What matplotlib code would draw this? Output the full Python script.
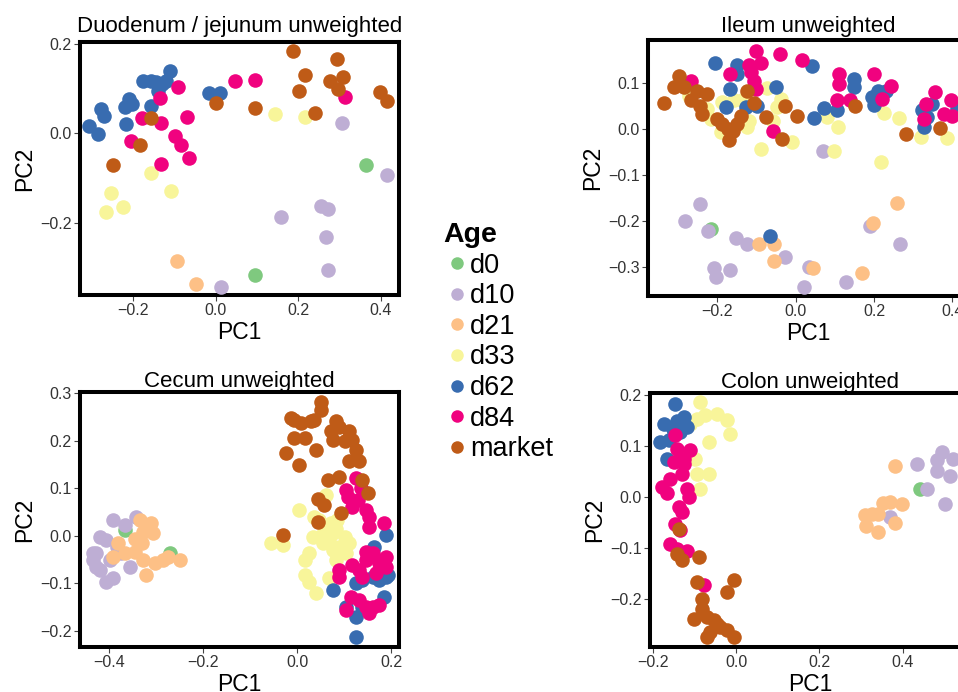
import matplotlib
matplotlib.use("Agg")
import matplotlib.pyplot as plt
from matplotlib.lines import Line2D

plt.rcParams['font.family'] = ['Liberation Sans', 'DejaVu Sans']

groups = ['d0', 'd10', 'd21', 'd33', 'd62', 'd84', 'market']
colors = ['#7FC97F', '#BEAED4', '#FDC086', '#F8F59A', '#386CB0', '#F0027F', '#BF5B17']

# --- Duodenum / jejunum ---
duo_pc1 = {
    'd0': [0.365, 0.095],
    'd10': [0.306, 0.414, 0.159, 0.256, 0.272, 0.268, 0.272, 0.014],
    'd21': [-0.094, -0.047],
    'd33': [0.143, 0.216, -0.156, -0.108, -0.253, -0.223, -0.265],
    'd62': [-0.306, -0.285, -0.277, -0.271, -0.216, -0.220, -0.209, -0.202, -0.176,
            -0.156, -0.144, -0.140, -0.156, -0.120, -0.110, -0.015, 0.010, -0.130],
    'd84': [-0.091, -0.134, -0.178, -0.132, -0.205, -0.133, -0.097, -0.083, -0.065,
            -0.069, 0.046, 0.095, 0.313],
    'market': [0.188, 0.293, 0.216, 0.278, 0.309, 0.297, 0.202, 0.240, 0.398, 0.414,
               0.002, 0.095, -0.156, -0.183, -0.249],
}
duo_pc2 = {
    'd0': [-0.071, -0.316],
    'd10': [0.022, -0.093, -0.187, -0.163, -0.168, -0.232, -0.305, -0.344],
    'd21': [-0.286, -0.336],
    'd33': [0.043, 0.037, -0.088, -0.128, -0.133, -0.165, -0.176],
    'd62': [0.016, -0.002, 0.054, 0.039, 0.020, 0.059, 0.076, 0.065, 0.117,
            0.117, 0.114, 0.095, 0.061, 0.117, 0.140, 0.089, 0.091, 0.110],
    'd84': [0.104, 0.078, 0.035, 0.022, -0.016, -0.068, -0.006, -0.026, -0.056,
            0.037, 0.117, 0.119, 0.082],
    'market': [0.185, 0.166, 0.130, 0.117, 0.126, 0.099, 0.095, 0.046, 0.093, 0.072,
               0.067, 0.056, 0.034, -0.026, -0.070],
}

# --- Ileum ---
ile_pc1 = {
    'd0': [-0.217],
    'd10': [0.071, -0.283, -0.243, -0.223, -0.209, -0.204, -0.168, -0.153, -0.125,
            -0.028, 0.034, 0.021, 0.128, 0.190, 0.266],
    'd21': [-0.094, -0.055, -0.055, 0.043, 0.169, 0.198, 0.258],
    'd33': [-0.272, -0.227, -0.217, -0.187, -0.191, -0.157, -0.136, -0.119, -0.123,
            -0.089, -0.074, -0.057, -0.038, -0.048, -0.009, 0.081, 0.109, 0.098,
            0.226, 0.217, 0.264, 0.319, 0.387],
    'd62': [-0.206, -0.151, -0.149, -0.168, -0.179, -0.128, -0.098, -0.051, -0.066,
            0.041, 0.047, 0.072, 0.106, 0.149, 0.149, 0.196, 0.200, 0.209, 0.230,
            0.323, 0.328, 0.336, 0.349, 0.413],
    'd84': [-0.268, -0.168, -0.102, -0.088, -0.119, -0.115, -0.106, -0.102, -0.041,
            0.017, -0.058, 0.111, 0.111, 0.106, 0.140, 0.200, 0.244, 0.221, 0.332,
            0.357, 0.328, 0.379, 0.396, 0.400],
    'market': [-0.336, -0.298, -0.311, -0.285, -0.268, -0.253, -0.227, -0.243, -0.238,
               -0.200, -0.187, -0.174, -0.170, -0.159, -0.149, -0.140, -0.125, -0.106,
               -0.077, -0.028, -0.034, 0.004, 0.151, 0.281, 0.368],
}
ile_pc2 = {
    'd0': [-0.217],
    'd10': [-0.047, -0.201, -0.164, -0.221, -0.303, -0.321, -0.307, -0.237, -0.251,
            -0.279, -0.301, -0.343, -0.333, -0.210, -0.249],
    'd21': [-0.249, -0.250, -0.288, -0.302, -0.314, -0.205, -0.162],
    'd33': [0.072, 0.043, 0.022, 0.058, -0.007, 0.062, 0.062, 0.018, 0.004,
            -0.043, 0.089, 0.018, 0.065, 0.047, -0.029, 0.025, 0.005, -0.047,
            0.034, -0.072, 0.024, -0.017, -0.020],
    'd62': [0.143, 0.138, 0.120, 0.087, 0.047, 0.047, 0.049, 0.092, -0.232,
            0.136, 0.024, 0.046, 0.040, 0.109, 0.092, 0.069, 0.051, 0.083, 0.083,
            0.040, 0.004, 0.025, 0.054, 0.043],
    'd84': [0.103, 0.120, 0.170, 0.143, 0.138, 0.123, 0.105, 0.087, 0.162,
            0.149, -0.004, 0.120, 0.098, 0.063, 0.063, 0.120, 0.094, 0.064, 0.054,
            0.080, 0.022, 0.033, 0.062, 0.029],
    'market': [0.057, 0.114, 0.092, 0.091, 0.063, 0.082, 0.076, 0.049, 0.033,
               0.022, 0.011, 0.000, -0.025, -0.004, 0.011, 0.029, 0.083, 0.057,
               0.025, 0.049, -0.022, 0.027, 0.049, -0.012, 0.002],
}

# --- Cecum ---
cec_pc1 = {
    'd0': [-0.367, -0.271],
    'd10': [-0.392, -0.342, -0.367, -0.420, -0.427, -0.434, -0.420, -0.406, -0.392,
            -0.384, -0.374, -0.399, -0.356, -0.427, -0.434, -0.406],
    'd21': [-0.335, -0.310, -0.328, -0.307, -0.345, -0.331, -0.345, -0.381, -0.367,
            -0.328, -0.303, -0.285, -0.275, -0.250, -0.321, -0.392],
    'd33': [-0.055, -0.030, 0.005, 0.062, 0.037, 0.047, 0.072, 0.083, 0.058, 0.101,
            0.069, 0.111, 0.090, 0.076, 0.104, 0.055, 0.083, 0.047, 0.026, 0.016,
            0.016, 0.026, 0.040, 0.069, 0.086, 0.033, 0.076],
    'd62': [0.189, 0.164, 0.193, 0.189, 0.161, 0.175, 0.125, 0.139, 0.076, 0.185,
            0.104, 0.125, 0.139, 0.125],
    'd84': [0.125, 0.104, 0.108, 0.136, 0.129, 0.118, 0.147, 0.154, 0.154, 0.185,
            0.090, 0.090, 0.118, 0.132, 0.147, 0.161, 0.175, 0.189, 0.189, 0.139,
            0.168, 0.115, 0.132, 0.147, 0.161, 0.175, 0.104, 0.154, 0.147],
    'market': [0.051, 0.051, -0.013, -0.006, 0.008, 0.030, 0.037, 0.083, 0.090, 0.072,
               0.076, 0.111, 0.118, 0.125, 0.111, 0.132, -0.006, 0.016, -0.023, 0.004,
               0.040, 0.065, 0.090, 0.044, 0.058, 0.093, 0.044, 0.139, 0.150, -0.030,
               0.101],
}
cec_pc2 = {
    'd0': [0.012, -0.036],
    'd10': [0.033, 0.040, 0.022, -0.002, -0.037, -0.037, -0.072, -0.097, -0.090,
            -0.023, -0.037, -0.051, -0.065, -0.065, -0.051, -0.009],
    'd21': [0.033, 0.026, 0.008, 0.005, -0.006, -0.016, -0.034, -0.016, -0.037,
            -0.051, -0.058, -0.051, -0.044, -0.051, -0.083, -0.044],
    'd33': [-0.016, -0.020, 0.055, 0.085, 0.040, 0.033, 0.026, 0.015, 0.008, -0.002,
            -0.009, -0.016, -0.023, -0.030, -0.037, -0.016, -0.051, -0.002, -0.037,
            -0.051, -0.083, -0.097, -0.121, -0.090, 0.033, -0.002, 0.005],
    'd62': [0.001, -0.023, -0.083, -0.086, -0.086, -0.093, -0.100, -0.093, -0.114,
            -0.128, -0.149, -0.170, -0.149, -0.212],
    'd84': [0.121, 0.096, 0.082, 0.100, 0.075, 0.061, 0.054, 0.040, 0.019, 0.026,
            -0.072, -0.086, -0.062, -0.072, -0.051, -0.037, -0.058, -0.044, -0.065,
            -0.086, -0.079, -0.128, -0.135, -0.149, -0.149, -0.146, -0.156, -0.163,
            -0.034],
    'market': [0.282, 0.264, 0.247, 0.243, 0.236, 0.240, 0.243, 0.240, 0.229, 0.219,
               0.201, 0.219, 0.201, 0.180, 0.156, 0.156, 0.205, 0.205, 0.173, 0.149,
               0.181, 0.117, 0.124, 0.078, 0.064, 0.047, 0.029, 0.117, 0.089, 0.001,
               0.198],
}

# --- Colon ---
col_pc1 = {
    'd0': [0.441],
    'd10': [0.434, 0.494, 0.482, 0.522, 0.482, 0.514, 0.458, 0.502, 0.370],
    'd21': [0.382, 0.354, 0.370, 0.398, 0.326, 0.342, 0.310, 0.313, 0.342, 0.382],
    'd33': [-0.087, -0.094, -0.074, -0.046, -0.022, -0.015, -0.066, -0.098, -0.094,
            -0.066, -0.086, -0.110],
    'd62': [-0.147, -0.174, -0.154, -0.134, -0.126, -0.118, -0.142, -0.182, -0.162,
            -0.166, -0.134, -0.150],
    'd84': [-0.146, -0.142, -0.110, -0.126, -0.150, -0.126, -0.158, -0.178, -0.166,
            -0.130, -0.118, -0.114, -0.138, -0.130, -0.146, -0.134, -0.158, -0.142,
            -0.118, -0.078],
    'market': [-0.138, -0.142, -0.130, -0.090, -0.095, -0.022, -0.004, -0.082, -0.082,
               -0.102, -0.070, -0.054, -0.038, -0.062, -0.022, -0.006, -0.070, -0.046],
}
col_pc2 = {
    'd0': [0.016],
    'd10': [0.065, 0.088, 0.072, 0.075, 0.052, 0.042, 0.016, -0.013, -0.039],
    'd21': [0.060, -0.012, -0.010, -0.014, -0.033, -0.033, -0.036, -0.056, -0.069, -0.051],
    'd33': [0.186, 0.154, 0.160, 0.163, 0.152, 0.124, 0.108, 0.075, 0.046, 0.046,
            0.016, 0.144],
    'd62': [0.183, 0.144, 0.137, 0.134, 0.157, 0.137, 0.150, 0.108, 0.111, 0.075,
            0.127, 0.127],
    'd84': [0.121, 0.095, 0.092, 0.075, 0.069, 0.065, 0.036, 0.020, 0.007, 0.046,
            0.016, 0.000, -0.020, -0.029, -0.052, -0.065, -0.092, -0.101, -0.105,
            -0.173],
    'market': [-0.062, -0.111, -0.124, -0.118, -0.167, -0.186, -0.163, -0.199, -0.219,
               -0.239, -0.235, -0.242, -0.255, -0.265, -0.261, -0.275, -0.275, -0.248],
}

titles = ['Duodenum / jejunum unweighted', 'Ileum unweighted',
          'Cecum unweighted', 'Colon unweighted']
panels = [(duo_pc1, duo_pc2), (ile_pc1, ile_pc2), (cec_pc1, cec_pc2), (col_pc1, col_pc2)]
xlims = [(-0.328, 0.444), (-0.377, 0.44), (-0.462, 0.217), (-0.207, 0.562)]
ylims = [(-0.361, 0.204), (-0.363, 0.193), (-0.234, 0.302), (-0.294, 0.204)]
xticks = [[-0.2, 0.0, 0.2, 0.4], [-0.2, 0.0, 0.2, 0.4],
          [-0.4, -0.2, 0.0, 0.2], [-0.2, 0.0, 0.2, 0.4]]
yticks = [[-0.2, 0.0, 0.2], [-0.3, -0.2, -0.1, 0.0, 0.1],
          [-0.2, -0.1, 0.0, 0.1, 0.2, 0.3], [-0.2, -0.1, 0.0, 0.1, 0.2]]

W, H = 958, 692
# axes boxes in pixels: left, top, width, height
boxes = [(80, 42, 319, 253), (648, 40, 320, 256), (80, 392, 319, 255), (650, 393, 320, 254)]
title_pads = [7, 6, 3, 3]

fig = plt.figure(figsize=(W / 100, H / 100), dpi=100)

for i, (px, py) in enumerate(panels):
    l, t, w, h = boxes[i]
    ax = fig.add_axes([l / W, 1 - (t + h) / H, w / W, h / H])
    for g, c in zip(groups, colors):
        ax.scatter(px[g], py[g], s=110, color=c, linewidths=0, zorder=3)
    ax.set_xlim(*xlims[i])
    ax.set_ylim(*ylims[i])
    ax.set_xticks(xticks[i])
    ax.set_yticks(yticks[i])
    ax.set_xticklabels([f'{v:.1f}'.replace('-', '\u2212') for v in xticks[i]])
    ax.set_yticklabels([f'{v:.1f}'.replace('-', '\u2212') for v in yticks[i]])
    ax.tick_params(direction='out', length=4, width=0.8, color='#444444',
                   labelcolor='#333333', labelsize=11.5, pad=2)
    for sp in ax.spines.values():
        sp.set_linewidth(2.9)
    ax.set_xlabel('PC1', fontsize=16.5, labelpad=2)
    ax.set_ylabel('PC2', fontsize=16.5, labelpad=3)
    ax.set_title(titles[i], fontsize=16, pad=title_pads[i])

handles = [Line2D([], [], marker='o', linestyle='', markersize=9, color=c,
                  markeredgewidth=0) for c in colors]
fig.legend(handles, groups, title='Age', loc='upper left',
           bbox_to_anchor=(443 / W, 1 - 222 / H), frameon=False,
           fontsize=19.5, title_fontproperties={'weight': 'bold', 'size': 20.5},
           alignment='left', handletextpad=0.0, labelspacing=0.17,
           handlelength=1.0, borderpad=0, borderaxespad=0)

fig.savefig('out.png', dpi=100)
